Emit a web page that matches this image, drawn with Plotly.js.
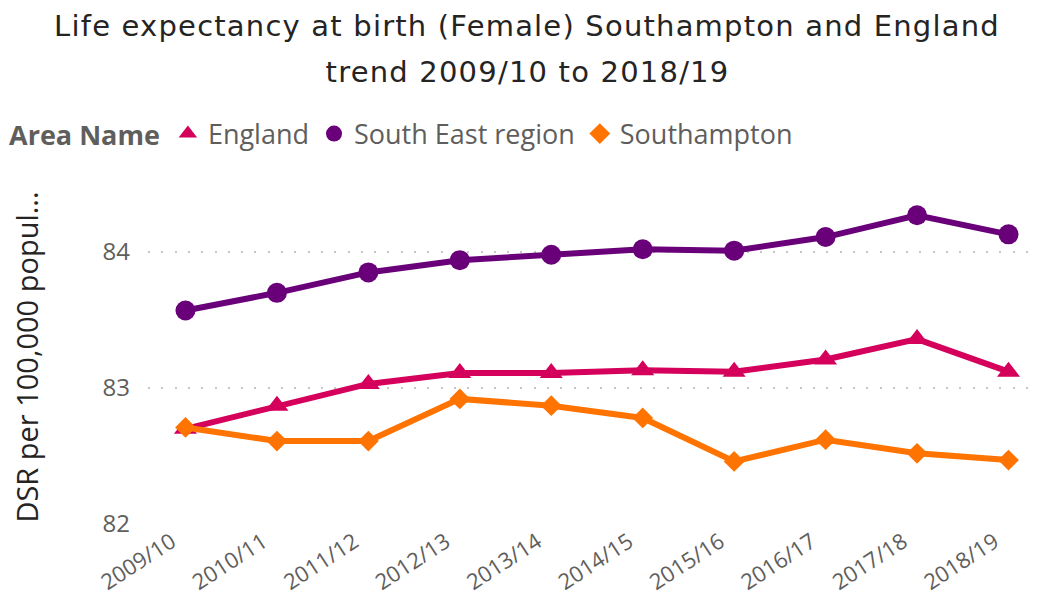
<!DOCTYPE html>
<html>
<head>
<meta charset="utf-8">
<script src="https://cdn.plot.ly/plotly-3.0.1.min.js"></script>
<style>
html,body{margin:0;padding:0;background:#fff;}
#chart{width:1039px;height:603px;}
#chart .gtitle, #chart .annotation-text{letter-spacing:1.2px;}
</style>
</head>
<body>
<div id="chart"></div>
<script>
const periods = ["2009/10","2010/11","2011/12","2012/13","2013/14","2014/15","2015/16","2016/17","2017/18","2018/19"];
const england = [82.70, 82.87, 83.03, 83.11, 83.11, 83.13, 83.12, 83.21, 83.36, 83.12];
const southEast = [83.57, 83.70, 83.85, 83.94, 83.98, 84.02, 84.01, 84.11, 84.27, 84.13];
const southampton = [82.71, 82.61, 82.61, 82.92, 82.87, 82.78, 82.46, 82.62, 82.52, 82.47];
const yTicks = [82, 83, 84];
const titleLine1 = "Life expectancy at birth (Female) Southampton and England";
const titleLine2 = "trend 2009/10 to 2018/19";

const cEng = "#D4005B", cSE = "#69007A", cSoton = "#FF7300";
const txtFont = "Open Sans, sans-serif";
const titleFont = "DejaVu Sans, sans-serif";

function series(name, y, color, symbol, size) {
  return {type:"scatter", mode:"lines+markers", name:name, x:periods, y:y,
    line:{color:color, width:6}, marker:{color:color, symbol:symbol, size:size},
    showlegend:false, hoverinfo:"x+y+name"};
}
function legendItem(name, color, symbol) {
  return {type:"scatter", mode:"markers", name:name, x:[null], y:[null],
    marker:{color:color, symbol:symbol, size:16}, showlegend:true};
}
const data = [
  series("England", england, cEng, "triangle-up", 20),
  series("South East region", southEast, cSE, "circle", 20),
  series("Southampton", southampton, cSoton, "diamond", 16),
  legendItem("England", cEng, "triangle-up"),
  legendItem("South East region", cSE, "circle"),
  legendItem("Southampton", cSoton, "diamond")
];
const layout = {
  width:1039, height:603,
  paper_bgcolor:"#fff", plot_bgcolor:"#fff",
  margin:{l:148, r:4, t:190, b:79},
  title:{text:titleLine1, font:{family:titleFont, size:29, color:"#252423"},
    xref:"container", x:527/1039, xanchor:"center", yref:"container", y:1-36/603, yanchor:"bottom"},
  annotations:[{text:titleLine2, showarrow:false, xref:"paper", x:(527-148)/(1039-148-4), xanchor:"center",
    yref:"paper", y:(603-79-83)/(603-190-79), yanchor:"bottom", yshift:-8,
    font:{family:titleFont, size:29, color:"#252423"}}],
  showlegend:true,
  legend:{orientation:"h", xref:"container", x:7/1039, xanchor:"left", yref:"container", y:1-134/603, yanchor:"middle",
    title:{text:"<b>Area Name</b>", font:{family:txtFont, size:27, color:"#605E5C"}},
    font:{family:txtFont, size:27, color:"#605E5C"},
    itemwidth:30, tracegroupgap:0, bgcolor:"rgba(0,0,0,0)"},
  xaxis:{type:"category", range:[-0.41, 9.29], showgrid:false, zeroline:false, showline:false,
    tickangle:-33, ticklabelshift:-14, tickfont:{family:txtFont, size:22, color:"#605E5C"}, ticks:"", fixedrange:true},
  yaxis:{range:[82, 84.456], tickvals:yTicks, ticktext:yTicks.map(String), showgrid:true,
    gridcolor:"#C8C6C4", griddash:"2px,11.3px", gridwidth:1.5, zeroline:false, showline:false, ticks:"",
    ticklabelstandoff:17,
    tickfont:{family:txtFont, size:24, color:"#605E5C"},
    title:{text:"DSR per 100,000 popul...", font:{family:txtFont, size:29, color:"#252423"}, standoff:55},
    automargin:false, fixedrange:true}
};
Plotly.newPlot("chart", data, layout, {displayModeBar:false, staticPlot:true});
</script>
</body>
</html>
